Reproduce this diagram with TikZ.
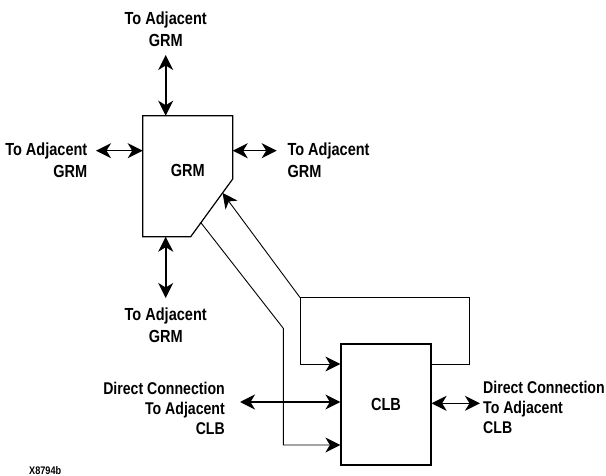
\documentclass[tikz,border=0pt]{standalone}
\usepackage{fontspec}
\setmainfont{Liberation Sans}[FakeStretch=0.83]
\usetikzlibrary{arrows.meta}

\tikzset{
  head/.tip={Stealth[length=15pt,width=15pt,inset=4.5pt]},
  block/.style={draw, line width=1.2pt},
  link/.style={draw, line width=0.9pt},
  feed/.style={link, -head},
  port/.style={draw, line width=1.6pt, head-head},
  lbl/.style={inner sep=0pt, font=\fontsize{17.5}{21.7}\selectfont\bfseries},
  clblbl/.style={inner sep=0pt, font=\fontsize{17}{20}\selectfont\bfseries},
}

\begin{document}
\begin{tikzpicture}[x=1pt, y=-1pt]
  \useasboundingbox (0,0) rectangle (606,476);

  % GRM block: a rectangle with its lower right corner cut off
  \coordinate (gtl) at (142.7,115.7);
  \coordinate (gtr) at (232.7,115.7);
  \coordinate (gcr) at (232.7,179);
  \coordinate (gcb) at (190.7,236.7);
  \coordinate (gbl) at (142.7,236.7);
  \path[block] (gtl) -- (gtr) -- (gcr) -- (gcb) -- (gbl) -- cycle;
  \node[lbl] (grm) at (187.7,170) {GRM};

  % ports on the GRM outline
  \coordinate (gN) at (165.7,115.7);
  \coordinate (gS) at (165.7,236.7);
  \coordinate (gW) at (142.7,150.7);
  \coordinate (gE) at (232.7,150.7);
  \coordinate (gin)  at (222.6,193);
  \coordinate (gout) at (200.9,222.7);

  % CLB block
  \node[block, minimum width=90pt, minimum height=121pt, inner sep=0pt,
        font=\fontsize{17.5}{20}\selectfont\bfseries] (clb) at (386,404.5) {CLB};

  % neighbour labels around the GRM
  \node[lbl, anchor=north, align=center] (tN) at (165.7,11.7) {To Adjacent\\GRM};
  \node[lbl, anchor=north east, align=right] (tW) at (87.5,142.7) {To Adjacent\\GRM};
  \node[lbl, anchor=north west, align=left] (tE) at (287.3,142.7) {To Adjacent\\GRM};
  \node[lbl, anchor=north, align=center] (tS) at (165.7,307.5) {To Adjacent\\GRM};

  % free ends of the GRM port arrows
  \coordinate (pN) at (165.7,55);
  \coordinate (pS) at (165.7,298);
  \coordinate (pW) at (96,150.7);
  \coordinate (pE) at (276.7,150.7);

  \path[port] (pN) -- (gN);
  \path[port] (pS) -- (gS);
  \path[port] (pW) -- (gW);
  \path[port] (gE) -- (pE);

  % direct connections to neighbouring CLBs
  \node[clblbl, anchor=north east, align=right] (dW) at (225,381.7)
       {Direct Connection\\To Adjacent\\CLB};
  \node[clblbl, anchor=north west, align=left] (dE) at (483,380.5)
       {Direct Connection\\To Adjacent\\CLB};
  \coordinate (cW) at (240,402);
  \coordinate (cE) at (480,403.3);
  \path[port] (cW) -- (clb.west |- cW);
  \path[port] (clb.east |- cE) -- (cE);

  % CLB output loops back to the GRM and to its own input
  \coordinate (oR)  at (469.3,364);
  \coordinate (oTR) at (469.3,297.5);
  \coordinate (split) at (300,297.5);
  \coordinate (fb) at (300,364);
  \path[link] (clb.east |- oR) -- (oR) -- (oTR) -- (split);
  \path[feed] (split) -- (gin);
  \path[feed] (split) -- (fb) -- (clb.west |- fb);

  % GRM output into the CLB
  \coordinate (gk1) at (283.3,328.3);
  \coordinate (gk2) at (283.3,445);
  \path[feed] (gout) -- (gk1) -- (gk2) -- (clb.west |- gk2);

  % figure code
  \node[inner sep=0pt, anchor=north west, font=\fontsize{11}{13}\selectfont\bfseries]
       (code) at (29,466.5) {X8794b};
\end{tikzpicture}
\end{document}
